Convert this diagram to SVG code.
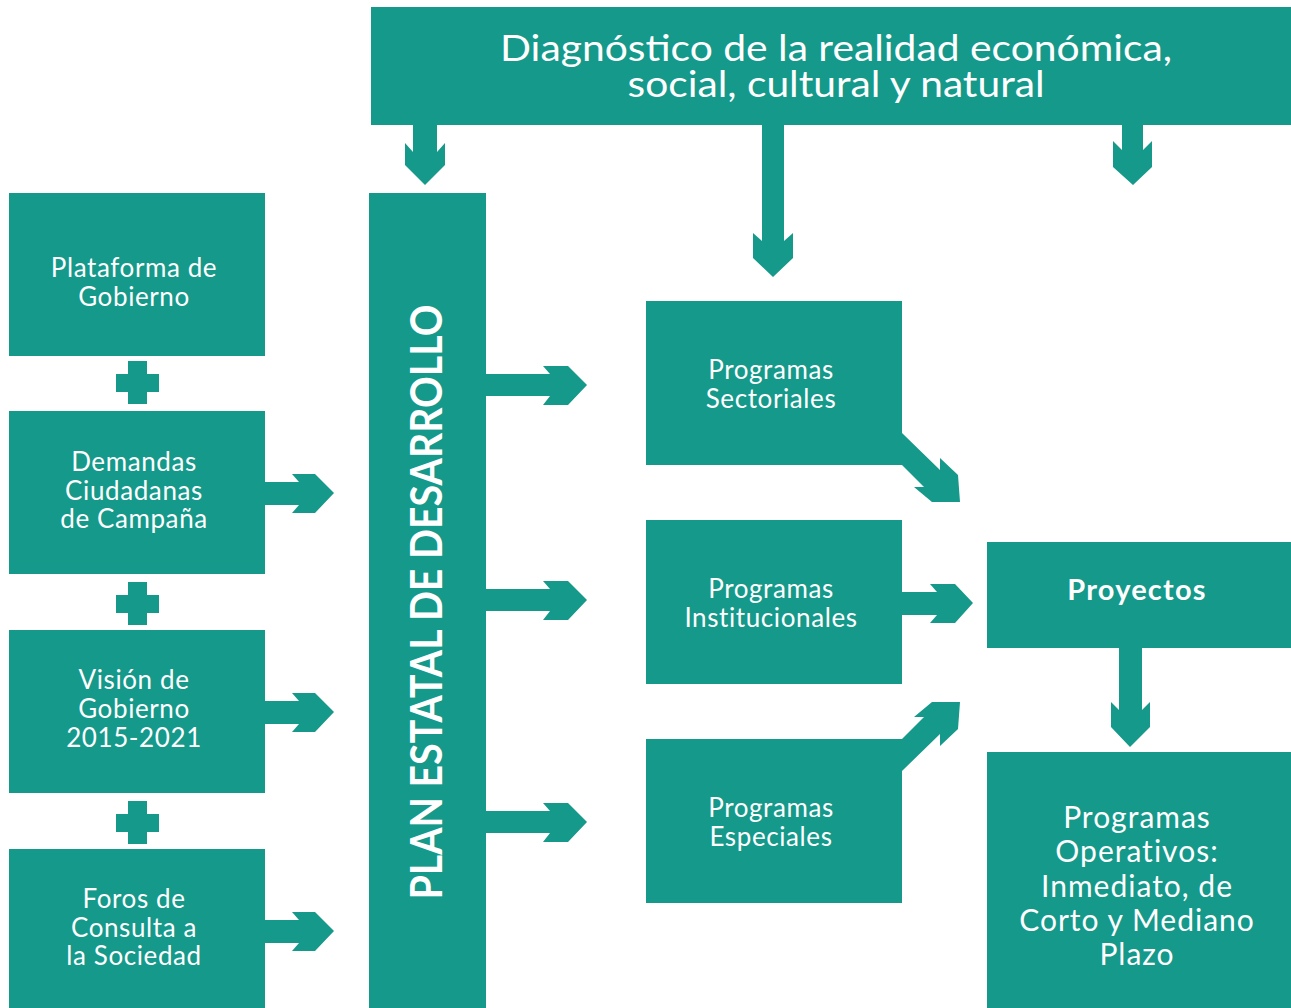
<svg xmlns="http://www.w3.org/2000/svg" width="1291" height="1008" viewBox="0 0 1291 1008">
<style>
.box{fill:#14998a}
.arr{fill:#14998a}
.t{font-family:Lato,"Open Sans","Liberation Sans",sans-serif;fill:#ffffff;text-anchor:middle;font-size:26px;letter-spacing:0.6px}
.b{font-weight:bold}
.op{font-size:30px;letter-spacing:1px}
</style>
<rect width="1291" height="1008" fill="#ffffff"/>
<g id="diagnostico">
<rect class="box" x="371" y="7" width="920" height="118"/>
<text class="t" x="836" y="61" style="font-size:37px;letter-spacing:0" textLength="672" lengthAdjust="spacingAndGlyphs">Diagnóstico de la realidad económica,</text>
<text class="t" x="836" y="97" style="font-size:37px;letter-spacing:0" textLength="417" lengthAdjust="spacingAndGlyphs">social, cultural y natural</text>
</g>
<g id="plan">
<rect class="box" x="369" y="193" width="117" height="815"/>
<text class="t b" transform="translate(442,602) rotate(-90)" style="font-size:44px;letter-spacing:0" textLength="595" lengthAdjust="spacingAndGlyphs">PLAN ESTATAL DE DESARROLLO</text>
</g>
<g id="plataforma">
<rect class="box" x="9" y="193" width="256" height="163"/>
<text class="t" x="134" y="277">Plataforma de</text>
<text class="t" x="134" y="306">Gobierno</text>
</g>
<g id="demandas">
<rect class="box" x="9" y="411" width="256" height="163"/>
<text class="t" x="134" y="471">Demandas</text>
<text class="t" x="134" y="500">Ciudadanas</text>
<text class="t" x="134" y="528">de Campaña</text>
</g>
<g id="vision">
<rect class="box" x="9" y="630" width="256" height="163"/>
<text class="t" x="134" y="689">Visión de</text>
<text class="t" x="134" y="718">Gobierno</text>
<text class="t" x="134" y="747">2015-2021</text>
</g>
<g id="foros">
<rect class="box" x="9" y="849" width="256" height="159"/>
<text class="t" x="134" y="908">Foros de</text>
<text class="t" x="134" y="937">Consulta a</text>
<text class="t" x="134" y="965">la Sociedad</text>
</g>
<g id="sectoriales">
<rect class="box" x="646" y="301" width="256" height="164"/>
<text class="t" x="771" y="379">Programas</text>
<text class="t" x="771" y="408">Sectoriales</text>
</g>
<g id="institucionales">
<rect class="box" x="646" y="520" width="256" height="164"/>
<text class="t" x="771" y="598">Programas</text>
<text class="t" x="771" y="627">Institucionales</text>
</g>
<g id="especiales">
<rect class="box" x="646" y="739" width="256" height="164"/>
<text class="t" x="771" y="817">Programas</text>
<text class="t" x="771" y="846">Especiales</text>
</g>
<g id="proyectos">
<rect class="box" x="987" y="542" width="304" height="106"/>
<text class="t b" x="1137" y="600" style="font-size:29px;letter-spacing:1.2px">Proyectos</text>
</g>
<g id="operativos">
<rect class="box" x="987" y="752" width="304" height="256"/>
<text class="t op" x="1137" y="828">Programas</text>
<text class="t op" x="1137" y="862">Operativos:</text>
<text class="t op" x="1137" y="897">Inmediato, de</text>
<text class="t op" x="1137" y="931">Corto y Mediano</text>
<text class="t op" x="1137" y="965">Plazo</text>
</g>
<g id="plus">
<path class="arr" d="M128,361h19v13h12v18h-12v12h-19v-12h-12v-18h12z"/>
<path class="arr" d="M128,582h19v13h12v18h-12v12h-19v-12h-12v-18h12z"/>
<path class="arr" d="M128,801h19v13h12v18h-12v12h-19v-12h-12v-18h12z"/>
</g>
<g id="connectors">
<path class="arr" d="M413,125V152L405,143V165L425,185L445,165V143L437,152V125z"/>
<path class="arr" d="M762,125V241L753,233V258L773,277L793,258V233L784,241V125z"/>
<path class="arr" d="M1122,125V150L1113,141V167L1133,185L1152,167V141L1143,150V125z"/>
<path class="arr" d="M265,482H299L292,474H315L334,493L315,513H292L299,505H265z"/>
<path class="arr" d="M265,701H299L292,693H315L334,712L315,732H292L299,724H265z"/>
<path class="arr" d="M265,920H299L292,912H315L334,931L315,951H292L299,943H265z"/>
<path class="arr" d="M486,374H550L543,366H568L587,385L568,405H543L550,396H486z"/>
<path class="arr" d="M486,589H550L543,581H568L587,600L568,620H543L550,611H486z"/>
<path class="arr" d="M486,811H550L543,803H568L587,822L568,842H543L550,833H486z"/>
<path class="arr" d="M902,592H937L930,584H955L973,603L955,623H930L937,615H902z"/>
<path class="arr" d="M902,433L940,470V458L958,475L960,502H932L914,487H924L902,465z"/>
<path class="arr" d="M902,771L940,734V746L958,729L960,702H932L914,717H924L902,739z"/>
<path class="arr" d="M1119,648V710L1111,702V727L1130,747L1150,727V702L1142,710V648z"/>
</g>
</svg>
